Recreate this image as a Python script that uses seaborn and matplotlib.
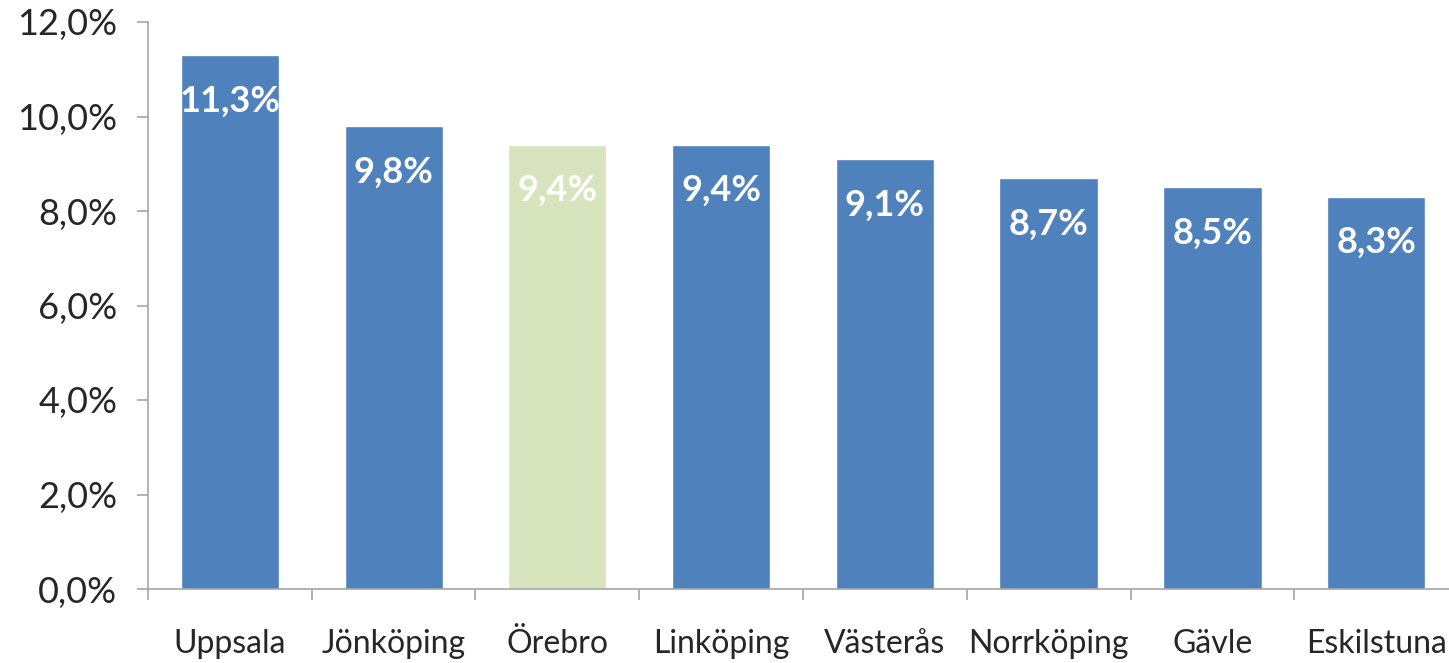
import pandas as pd
import seaborn as sns
import matplotlib.pyplot as plt
from matplotlib.ticker import FuncFormatter, MultipleLocator, FixedLocator

# data
cities = ['Uppsala', 'Jönköping', 'Örebro', 'Linköping', 'Västerås',
          'Norrköping', 'Gävle', 'Eskilstuna']
shares = [11.3, 9.8, 9.4, 9.4, 9.1, 8.7, 8.5, 8.3]
highlight = 'Örebro'

df = pd.DataFrame({'city': cities, 'share': shares})
df['group'] = ['hl' if c == highlight else 'base' for c in cities]

sns.set_style('white')
plt.rcParams['font.family'] = ['Lato', 'DejaVu Sans']

fig = plt.figure(figsize=(14.49, 6.63), dpi=100)
ax = fig.add_axes([148 / 1449, 74 / 663, 1310 / 1449, 567 / 663])

palette = {'base': '#4F81BD', 'hl': '#D7E4BD'}
sns.barplot(data=df, x='city', y='share', hue='group', palette=palette,
            dodge=False, width=0.6, saturation=1, legend=False, ax=ax)

# value labels inside bars, near the top
for i, v in enumerate(shares):
    ax.annotate(f'{v:.1f}%'.replace('.', ','), xy=(i, v), xytext=(0, -33),
                textcoords='offset points', ha='center', va='center',
                color='white', fontsize=26, fontweight='bold')

ax.set_ylim(0, 12)
ax.set_xlim(-0.5, len(cities) - 0.5)
ax.yaxis.set_major_locator(MultipleLocator(2))
ax.yaxis.set_major_formatter(FuncFormatter(lambda y, _: f'{y:.1f}%'.replace('.', ',')))

axis_grey = '#A6A6A6'
for side in ['top', 'right']:
    ax.spines[side].set_visible(False)
for side in ['left', 'bottom']:
    ax.spines[side].set_color(axis_grey)
    ax.spines[side].set_linewidth(1.2)

ax.tick_params(axis='y', which='major', direction='out', length=8, width=1.2,
               color=axis_grey, labelsize=26, pad=14, left=True)
ax.tick_params(axis='x', which='major', length=0, labelsize=23, pad=29)
ax.xaxis.set_minor_locator(FixedLocator([i - 0.5 for i in range(len(cities) + 1)]))
ax.tick_params(axis='x', which='minor', direction='out', length=8, width=1.2,
               color=axis_grey, bottom=True)

ax.set_xlabel('')
ax.set_ylabel('')

fig.savefig('out.png', dpi=100)
